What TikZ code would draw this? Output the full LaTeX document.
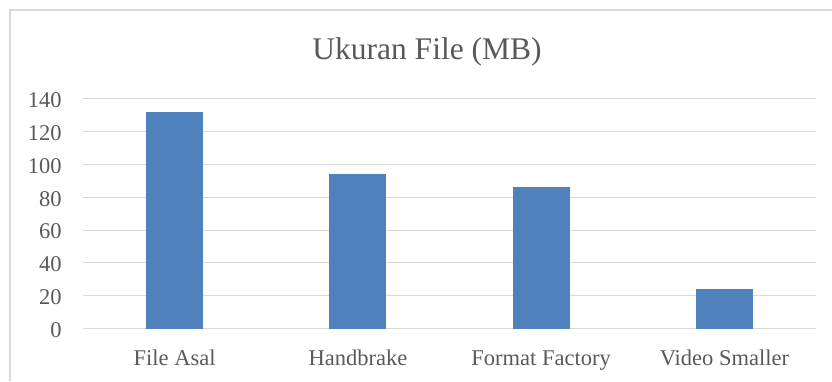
\documentclass[tikz,border=0pt]{standalone}
\usepackage{fontspec}
\setmainfont{Liberation Serif}
\usetikzlibrary{positioning}
\usetikzlibrary{calc}
\definecolor{barblue}{HTML}{4F81BD}
\definecolor{labelgray}{HTML}{595959}
\definecolor{gridgray}{HTML}{D9D9D9}

\begin{document}
\begin{tikzpicture}[x=1pt,y=1pt,semithick,font=\fontsize{22.5}{27}\selectfont]
	\tikzstyle{grid}=[draw=gridgray,line width=1pt]
	\tikzstyle{bar}=[fill=barblue,draw=none]
	\tikzstyle{tick}=[text=labelgray,anchor=east,inner sep=0pt,yshift=-1.5pt]
	\tikzstyle{cat}=[text=labelgray,anchor=base,inner sep=0pt]
	
	\useasboundingbox (0,0) rectangle (832,381);
	% chart frame (only left and top edges are visible)
	\draw[draw=gridgray,line width=2pt] (9.5,0) -- (9.5,370.5) -- (832,370.5);
	
	\node[text=labelgray,anchor=base,inner sep=0pt,font=\fontsize{31.5}{38}\selectfont] (title) at (427,321) {Ukuran File (MB)};
	
	\begin{scope}[shift={(83,52.5)},y=1.64pt]
		% gridlines
		\draw[grid] (0,0) -- (733,0);
		\draw[grid] (0,20) -- (733,20);
		\draw[grid] (0,40) -- (733,40);
		\draw[grid] (0,60) -- (733,60);
		\draw[grid] (0,80) -- (733,80);
		\draw[grid] (0,100) -- (733,100);
		\draw[grid] (0,120) -- (733,120);
		\draw[grid] (0,140) -- (733,140);
		
		\node[tick] (Y_0)   at (-21,0)   {0};
		\node[tick] (Y_20)  at (-21,20)  {20};
		\node[tick] (Y_40)  at (-21,40)  {40};
		\node[tick] (Y_60)  at (-21,60)  {60};
		\node[tick] (Y_80)  at (-21,80)  {80};
		\node[tick] (Y_100) at (-21,100) {100};
		\node[tick] (Y_120) at (-21,120) {120};
		\node[tick] (Y_140) at (-21,140) {140};
		
		% bars
		\fill[bar] (63.1,0)  rectangle (120.1,132);
		\fill[bar] (246.4,0) rectangle (303.4,94);
		\fill[bar] (429.6,0) rectangle (486.6,86.5);
		\fill[bar] (612.9,0) rectangle (669.9,24);
	\end{scope}
	
	\node[cat] (L_1) at (174.6,16) {File Asal};
	\node[cat] (L_2) at (357.9,16) {Handbrake};
	\node[cat] (L_3) at (541.1,16) {Format Factory};
	\node[cat] (L_4) at (724.4,16) {Video Smaller};
\end{tikzpicture}
\end{document}
